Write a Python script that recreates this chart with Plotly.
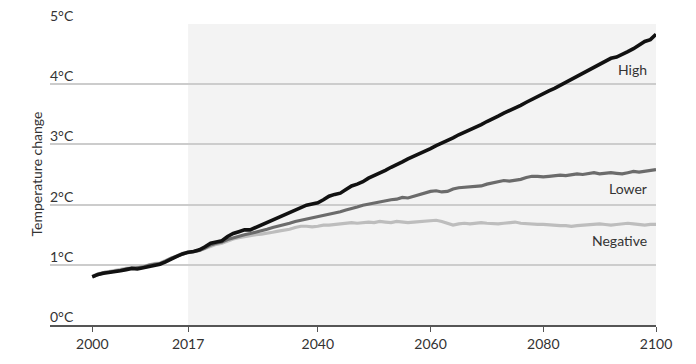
import plotly.graph_objects as go

years = list(range(2000, 2101))

high = [
    0.80, 0.84, 0.86, 0.87, 0.89, 0.90, 0.92, 0.94, 0.93, 0.95,
    0.98, 1.00, 1.01, 1.05, 1.10, 1.14, 1.18, 1.21, 1.22, 1.25,
    1.30, 1.36, 1.38, 1.40, 1.47, 1.52, 1.55, 1.58, 1.58, 1.62,
    1.67, 1.71, 1.75, 1.79, 1.82, 1.86, 1.90, 1.95, 1.99, 2.01,
    2.03, 2.08, 2.14, 2.17, 2.19, 2.25, 2.31, 2.34, 2.38, 2.44,
    2.48, 2.52, 2.57, 2.62, 2.66, 2.71, 2.76, 2.80, 2.84, 2.89,
    2.93, 2.98, 3.02, 3.06, 3.11, 3.16, 3.20, 3.24, 3.29, 3.33,
    3.38, 3.42, 3.47, 3.52, 3.56, 3.61, 3.65, 3.70, 3.75, 3.80,
    3.85, 3.89, 3.93, 3.98, 4.04, 4.08, 4.13, 4.18, 4.23, 4.28,
    4.33, 4.39, 4.43, 4.45, 4.49, 4.54, 4.59, 4.65, 4.71, 4.74,
    4.83,
]

lower = [
    0.80, 0.84, 0.87, 0.88, 0.89, 0.91, 0.93, 0.94, 0.94, 0.96,
    0.99, 1.01, 1.02, 1.06, 1.11, 1.14, 1.18, 1.20, 1.22, 1.24,
    1.28, 1.33, 1.36, 1.38, 1.42, 1.45, 1.47, 1.50, 1.52, 1.54,
    1.56, 1.59, 1.62, 1.64, 1.67, 1.69, 1.72, 1.74, 1.76, 1.77,
    1.79, 1.82, 1.84, 1.86, 1.88, 1.91, 1.93, 1.96, 1.99, 2.01,
    2.02, 2.04, 2.07, 2.08, 2.09, 2.12, 2.11, 2.14, 2.17, 2.20,
    2.22, 2.23, 2.21, 2.22, 2.26, 2.28, 2.29, 2.30, 2.30, 2.31,
    2.34, 2.36, 2.38, 2.40, 2.39, 2.40, 2.42, 2.45, 2.47, 2.47,
    2.46, 2.47, 2.48, 2.49, 2.48, 2.50, 2.51, 2.50, 2.52, 2.53,
    2.51, 2.52, 2.53, 2.52, 2.51, 2.53, 2.55, 2.54, 2.55, 2.57,
    2.58,
]

negative = [
    0.81, 0.85, 0.87, 0.89, 0.90, 0.92, 0.94, 0.95, 0.95, 0.97,
    1.00, 1.02, 1.03, 1.07, 1.12, 1.15, 1.19, 1.21, 1.22, 1.24,
    1.27, 1.31, 1.34, 1.36, 1.40, 1.43, 1.45, 1.47, 1.49, 1.50,
    1.51, 1.52, 1.54, 1.56, 1.57, 1.59, 1.62, 1.64, 1.64, 1.63,
    1.64, 1.66, 1.66, 1.67, 1.68, 1.69, 1.70, 1.69, 1.70, 1.71,
    1.70, 1.72, 1.71, 1.70, 1.72, 1.71, 1.70, 1.71, 1.72, 1.73,
    1.74, 1.74, 1.72, 1.69, 1.66, 1.68, 1.69, 1.68, 1.69, 1.70,
    1.69, 1.68, 1.68, 1.69, 1.70, 1.71, 1.69, 1.68, 1.67, 1.67,
    1.67, 1.66, 1.66, 1.65, 1.65, 1.64, 1.65, 1.66, 1.67, 1.67,
    1.68, 1.67, 1.66, 1.67, 1.68, 1.69, 1.68, 1.67, 1.66, 1.67,
    1.67,
]

x_ticks = [2000, 2017, 2040, 2060, 2080, 2100]
y_ticks = [0, 1, 2, 3, 4, 5]
y_tick_labels = ["0°C", "1°C", "2°C", "3°C", "4°C", "5°C"]
projection_start = 2017

series_names = ["Negative", "Lower", "High"]
series_values = [negative, lower, high]
series_colors = ["#bdbdbd", "#6b6b6b", "#111111"]
series_widths = [3.2, 3.2, 3.6]
label_y = [1.40, 2.26, 4.25]

FONT = "Lato, 'Open Sans', sans-serif"
TXT = "#333333"

fig = go.Figure()
for name, vals, col, w in zip(series_names, series_values, series_colors, series_widths):
    fig.add_trace(go.Scatter(x=years, y=vals, mode="lines", name=name,
                             line=dict(color=col, width=w), showlegend=False))

fig.add_shape(type="rect", xref="x", yref="y", x0=projection_start, x1=2100, y0=0, y1=5,
              fillcolor="#f3f3f3", line=dict(width=0), layer="below")

annotations = []
for v, lab in zip(y_ticks, y_tick_labels):
    annotations.append(dict(xref="paper", yref="y", x=0, y=v, text=lab, showarrow=False,
                            xanchor="left", yanchor="bottom", yshift=-2, xshift=-2,
                            font=dict(family=FONT, size=14, color=TXT)))
for name, ly in zip(series_names, label_y):
    annotations.append(dict(xref="x", yref="y", x=2098.8, y=ly, text=name, showarrow=False,
                            xanchor="right", yanchor="middle",
                            font=dict(family=FONT, size=14, color=TXT)))
annotations.append(dict(xref="paper", yref="paper", x=-0.023, y=0.5, text="Temperature change",
                        textangle=-90, showarrow=False, xanchor="center", yanchor="middle",
                        font=dict(family=FONT, size=14, color=TXT)))

# page body has an 8px margin, so the figure is sized to fit the window
fig.update_layout(
    width=688, height=356,
    margin=dict(l=42, r=40, t=16, b=36),
    paper_bgcolor="white", plot_bgcolor="white",
    annotations=annotations,
    xaxis=dict(range=[1992.5, 2100], tickvals=x_ticks, ticktext=[str(t) for t in x_ticks],
               showgrid=False, zeroline=False, showline=True, linecolor="#555555", linewidth=1.5,
               ticks="outside", ticklen=5, tickcolor="#555555", tickwidth=1,
               tickfont=dict(family=FONT, size=14, color=TXT)),
    yaxis=dict(range=[0, 5], tickvals=y_ticks, showticklabels=False,
               showgrid=True, gridcolor="#cccccc", gridwidth=1.5, zeroline=False, showline=False),
)

fig.write_html("out.html")
